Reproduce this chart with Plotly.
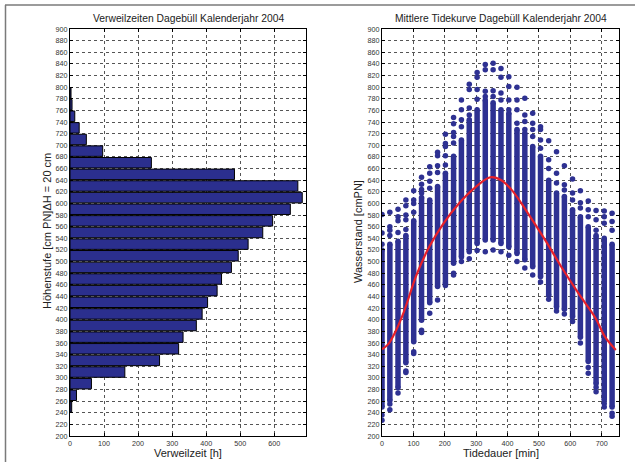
import plotly.graph_objects as go
from plotly.subplots import make_subplots

# ---------------- data: left panel (histogram of dwell times) ----------------
bar_levels = [250, 270, 290, 310, 330, 350, 370, 390, 410, 430, 450, 470, 490, 510,
              530, 550, 570, 590, 610, 630, 650, 670, 690, 710, 730, 750, 770, 790]
bar_hours = [5, 19, 63, 161, 263, 319, 332, 371, 388, 404, 432, 445, 474, 494,
             523, 566, 595, 647, 682, 669, 483, 239, 96, 48, 27, 14, 6, 3]

# ---------------- data: right panel (tide curves) ----------------
col_t = [0, 25, 51, 76, 101, 126, 152, 177, 202, 228, 253, 278, 303, 329, 354,
         379, 404, 430, 455, 480, 505, 531, 556, 581, 607, 632, 657, 682, 708, 733]
dense_hi = [520, 530, 535, 545, 570, 610, 606, 629, 652, 681, 709, 744, 761, 778, 773,
            761, 755, 727, 721, 698, 681, 640, 618, 612, 589, 577, 560, 545, 540, 530]
dense_lo = [250, 261, 283, 326, 362, 399, 429, 457, 462, 497, 508, 517, 531, 537, 537,
            531, 525, 514, 503, 491, 474, 442, 422, 418, 405, 370, 328, 290, 262, 250]
outliers = [
    [581, 549, 530, 236, 227],
    [585, 560, 554, 545, 255, 245],
    [590, 577, 570, 550, 274],
    [606, 596, 580, 572, 555, 312, 309],
    [622, 606, 600, 585, 345, 342],
    [645, 633, 624, 618, 382, 378],
    [663, 652, 638, 626, 411],
    [688, 682, 665, 653, 434],
    [719, 703, 698, 682, 666, 459],
    [748, 737, 722, 715, 704, 480, 477],
    [778, 761, 744, 732, 500],
    [805, 796, 764, 752, 505],
    [825, 817, 796, 779, 519],
    [839, 830, 793, 784, 517],
    [841, 830, 794, 784, 520],
    [832, 817, 790, 778, 517],
    [818, 801, 778, 761, 511],
    [800, 778, 761, 738, 500],
    [781, 752, 741, 727, 489],
    [755, 738, 727, 715, 477],
    [732, 727, 709, 695, 465],
    [708, 675, 660, 435],
    [689, 652, 635, 415],
    [665, 632, 623, 410],
    [642, 618, 606, 397],
    [622, 601, 592, 360],
    [604, 589, 577, 318, 308],
    [588, 572, 554, 284, 276],
    [587, 577, 566, 256, 250],
    [583, 569, 554, 239, 234],
]
mean_t = [0, 20, 45, 70, 110, 150, 195, 245, 300, 345, 380, 415, 465, 520, 570, 625, 680, 710, 745]
mean_v = [349, 358, 382, 414, 477, 525, 565, 600, 629, 645, 640, 622, 583, 537, 492, 446, 403, 371, 348]

y_ticks = list(range(200, 901, 20))

# ---------------- styling ----------------
W, H = 635, 462
ML, MR, MT, MB = 70, 16, 29, 26
PW = W - ML - MR
PH = H - MT - MB
FONT = "Liberation Sans, Arial, sans-serif"
BLUE = "#2E3192"


def px_x(p):
    return (p - ML) / PW


def px_y(p):
    return (H - MB - p) / PH


fig = make_subplots(rows=1, cols=2)

fig.add_trace(go.Bar(
    y=bar_levels, x=bar_hours, orientation="h", width=18,
    marker=dict(color="#2B2F8E", line=dict(color="black", width=1)),
    showlegend=False), row=1, col=1)

# dense parts of each column
seg_x, seg_y = [], []
for t, lo, hi in zip(col_t, dense_lo, dense_hi):
    seg_x += [t, t, None]
    seg_y += [lo, hi, None]
fig.add_trace(go.Scatter(
    x=seg_x, y=seg_y, mode="lines+markers",
    line=dict(color=BLUE, width=5.5),
    marker=dict(color=BLUE, size=5.5),
    showlegend=False), row=1, col=2)

# isolated points
ox, oy = [], []
for t, vals in zip(col_t, outliers):
    for v in vals:
        ox.append(t)
        oy.append(v)
fig.add_trace(go.Scatter(
    x=ox, y=oy, mode="markers",
    marker=dict(color=BLUE, size=5.5),
    showlegend=False), row=1, col=2)

fig.add_trace(go.Scatter(
    x=mean_t, y=mean_v, mode="lines", line=dict(color="#E8212A", width=2.2, shape="spline"),
    showlegend=False), row=1, col=2)

axis_common = dict(
    showline=True, linecolor="black", linewidth=1, mirror="ticks",
    ticks="inside", ticklen=3, tickcolor="black",
    showgrid=True, gridcolor="#555555", griddash="dot", gridwidth=1,
    zeroline=False, tickfont=dict(family=FONT, size=7.2, color="#333333"),
)

x1_end = px_x(306)
x2_start = px_x(382)
fig.update_xaxes(**axis_common)
fig.update_yaxes(**axis_common)
fig.update_xaxes(domain=[0, x1_end], range=[0, 693], tickvals=[0, 100, 200, 300, 400, 500, 600], row=1, col=1)
fig.update_xaxes(domain=[x2_start, 1], range=[0, 755], tickvals=[0, 100, 200, 300, 400, 500, 600, 700], row=1, col=2)
fig.update_yaxes(range=[200, 900], tickvals=y_ticks, row=1, col=1)
fig.update_yaxes(range=[200, 900], tickvals=y_ticks, row=1, col=2)

ann_font = dict(family=FONT, size=10.3, color="#222222")
lab_font = dict(family=FONT, size=11, color="#222222")
annotations = [
    dict(text="Verweilzeiten Dagebüll Kalenderjahr 2004", x=px_x(188), y=px_y(19),
         xref="paper", yref="paper", showarrow=False, font=ann_font, xanchor="center", yanchor="middle"),
    dict(text="Mittlere Tidekurve Dagebüll Kalenderjahr 2004", x=px_x(501), y=px_y(19),
         xref="paper", yref="paper", showarrow=False, font=ann_font, xanchor="center", yanchor="middle"),
    dict(text="Verweilzeit [h]", x=px_x(188), y=px_y(453),
         xref="paper", yref="paper", showarrow=False, font=lab_font, xanchor="center", yanchor="middle"),
    dict(text="Tidedauer [min]", x=px_x(501), y=px_y(453),
         xref="paper", yref="paper", showarrow=False, font=lab_font, xanchor="center", yanchor="middle"),
    dict(text="Höhenstufe [cm PN]ΔH = 20 cm", x=px_x(47), y=px_y(231), textangle=-90,
         xref="paper", yref="paper", showarrow=False, font=lab_font, xanchor="center", yanchor="middle"),
    dict(text="Wasserstand [cmPN]", x=px_x(358), y=px_y(232), textangle=-90,
         xref="paper", yref="paper", showarrow=False, font=lab_font, xanchor="center", yanchor="middle"),
]

shapes = [
    dict(type="line", xref="paper", yref="paper", x0=px_x(5), x1=px_x(635), y0=px_y(5), y1=px_y(5),
         line=dict(color="#7a7a7a", width=1.5)),
    dict(type="line", xref="paper", yref="paper", x0=px_x(5.5), x1=px_x(5.5), y0=px_y(5), y1=px_y(462),
         line=dict(color="#7a7a7a", width=1.5)),
]

fig.update_layout(
    width=W, height=H, margin=dict(l=ML, r=MR, t=MT, b=MB),
    paper_bgcolor="white", plot_bgcolor="white",
    font=dict(family=FONT),
    annotations=annotations, shapes=shapes,
    bargap=0.1,
)

fig.write_html(
    "out.html",
    config={"displayModeBar": False},
    post_script="document.body.style.margin='0';document.body.style.padding='0';"
                "document.body.style.overflow='hidden';",
)
